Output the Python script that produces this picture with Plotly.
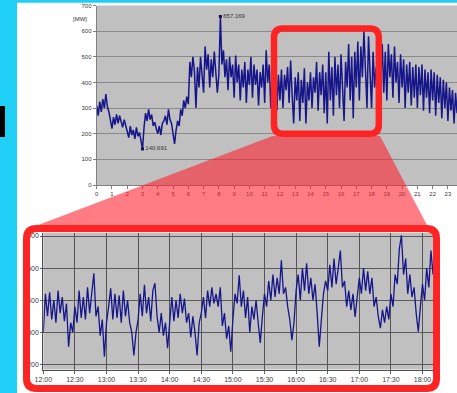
import plotly.graph_objects as go

# ---------------- data ----------------
# Top chart: whole day, one value every 0.1 h  [MW]
day_step_h = 0.1
day_mw = [
    310, 270, 325, 285, 335, 300, 355, 305, 285, 250,   # 0 h
    220, 265, 235, 275, 240, 270, 245, 225, 255, 230,   # 1 h
    215, 185, 230, 195, 215, 180, 225, 190, 205, 175,   # 2 h
    140.691, 225, 280, 250, 295, 255, 275, 230, 245, 220,  # 3 h
    200, 230, 195, 240, 250, 270, 235, 295, 255, 240,   # 4 h
    200, 160, 215, 250, 230, 295, 270, 330, 300, 345,   # 5 h
    315, 480, 420, 500, 445, 300, 460, 380, 500, 420,   # 6 h
    360, 540, 450, 510, 380, 490, 420, 520, 440, 360,   # 7 h
    430, 657.169, 470, 525, 420, 490, 370, 500, 420, 470,  # 8 h
    340, 505, 400, 470, 330, 450, 380, 480, 320, 450,   # 9 h
    390, 500, 340, 470, 390, 450, 310, 440, 380, 470,   # 10 h
    320, 525, 400, 470, 300, 440, 360, 460, 290, 430,   # 11 h
    330, 450, 300, 430, 370, 460, 320, 485, 350, 240,   # 12 h
    420, 330, 440, 250, 410, 320, 455, 240, 400, 330,   # 13 h
    440, 300, 420, 360, 480, 290, 440, 350, 470, 280,   # 14 h
    440, 240, 520, 330, 460, 270, 500, 350, 470, 300,   # 15 h
    510, 340, 250, 480, 380, 550, 330, 500, 260, 520,   # 16 h
    380, 560, 330, 540, 420, 600, 440, 300, 580, 420,   # 17 h
    300, 520, 380, 460, 350, 520, 400, 550, 360, 520,   # 18 h
    330, 550, 420, 510, 340, 540, 400, 480, 320, 510,   # 19 h
    380, 490, 300, 470, 360, 480, 310, 460, 340, 470,   # 20 h
    300, 460, 350, 470, 290, 450, 340, 440, 280, 450,   # 21 h
    330, 440, 270, 430, 320, 420, 260, 410, 300, 400,   # 22 h
    250, 380, 290, 370, 240, 360, 280, 350, 260, 340,   # 23 h
]
day_tick_labels = [str(h) for h in range(24)]
day_y_ticks = [0, 100, 200, 300, 400, 500, 600, 700]

# Bottom chart: 12:00 - 18:10, one value every 2 minutes  [MW]
zoom_step_min = 2
zoom_mw = [
    300, 420, 350, 425, 340, 400, 330, 430, 360, 410, 335, 390, 255, 330, 300,  # 12:00
    380, 330, 430, 345, 410, 340, 440, 360, 420, 484, 350, 380, 290, 340, 224,  # 12:30
    330, 380, 437, 340, 420, 345, 415, 330, 430, 350, 400, 330, 300, 228, 300,  # 13:00
    340, 420, 350, 448, 360, 410, 335, 430, 453, 350, 300, 360, 290, 330, 251,  # 13:30
    340, 410, 335, 400, 345, 420, 360, 405, 330, 360, 285, 350, 300, 228, 330,  # 14:00
    360, 410, 345, 430, 380, 440, 390, 420, 380, 440, 320, 360, 280, 320, 240,  # 14:30
    340, 420, 390, 478, 380, 430, 345, 410, 300, 380, 340, 400, 330, 267, 350,  # 15:00
    420, 380, 460, 400, 480, 410, 470, 420, 524, 420, 440, 380, 340, 276, 330,  # 15:30
    430, 480, 400, 500, 430, 515, 420, 470, 400, 450, 360, 255, 340, 420, 460,  # 16:00
    430, 510, 440, 530, 450, 500, 555, 440, 460, 380, 430, 370, 420, 348, 400,  # 16:30
    470, 420, 500, 430, 490, 420, 470, 380, 410, 350, 313, 370, 330, 380, 340,  # 17:00
    420, 380, 480, 450, 560, 602, 480, 530, 420, 480, 410, 440, 360, 302, 380,  # 17:30
    450, 400, 500, 440, 555, 480,                                                # 18:00
]
zoom_tick_minutes = [0, 30, 60, 90, 120, 150, 180, 210, 240, 270, 300, 330, 360]
zoom_tick_labels = ["12:00", "12:30", "13:00", "13:30", "14:00", "14:30", "15:00",
                    "15:30", "16:00", "16:30", "17:00", "17:30", "18:00"]
zoom_y_ticks = [200, 300, 400, 500, 600]

# ---------------- figure ----------------
W, H = 457, 393
day_x = [i * day_step_h for i in range(len(day_mw))]
zoom_x = [i * zoom_step_min for i in range(len(zoom_mw))]

i_max = max(range(len(day_mw)), key=lambda i: day_mw[i])
i_min = min(range(len(day_mw)), key=lambda i: day_mw[i])

LINE = "#16168a"
FONT = "Liberation Sans, Arial, sans-serif"
TICKC = "#3a3a3a"

fig = go.Figure()
fig.add_trace(go.Scatter(x=day_x, y=day_mw, mode="lines",
                         line=dict(color=LINE, width=1.5), xaxis="x", yaxis="y",
                         hoverinfo="skip"))
fig.add_trace(go.Scatter(
    x=[day_x[i_max], day_x[i_min]], y=[day_mw[i_max], day_mw[i_min]],
    mode="markers+text", marker=dict(color="#10105a", size=3, symbol="square"),
    text=[f"{day_mw[i_max]:.3f}", f"{day_mw[i_min]:.3f}"],
    textposition="middle right", textfont=dict(size=6, color="#333", family=FONT),
    xaxis="x", yaxis="y", hoverinfo="skip", cliponaxis=False))
fig.add_trace(go.Scatter(x=zoom_x, y=zoom_mw, mode="lines",
                         line=dict(color=LINE, width=1.3), xaxis="x2", yaxis="y2",
                         hoverinfo="skip"))


def px(x):
    return x / W


def py(y):
    return 1 - y / H


def rounded_rect(x0, y0, x1, y1, r):
    # coordinates in pixels -> paper path
    pts = [
        ("M", (x0 + r, y0)), ("L", (x1 - r, y0)), ("Q", (x1, y0), (x1, y0 + r)),
        ("L", (x1, y1 - r)), ("Q", (x1, y1), (x1 - r, y1)), ("L", (x0 + r, y1)),
        ("Q", (x0, y1), (x0, y1 - r)), ("L", (x0, y0 + r)), ("Q", (x0, y0), (x0 + r, y0)),
    ]
    s = ""
    for seg in pts:
        cmd = seg[0]
        s += cmd + " " + " ".join(f"{px(a):.5f},{py(b):.5f}" for a, b in seg[1:]) + " "
    return s + "Z"


shapes = [
    # cyan frame
    dict(type="rect", xref="paper", yref="paper", x0=0, x1=px(17), y0=0, y1=1,
         fillcolor="#20cff5", line=dict(width=0), layer="above"),
    dict(type="rect", xref="paper", yref="paper", x0=0, x1=1, y0=py(2.8), y1=1,
         fillcolor="#20cff5", line=dict(width=0), layer="above"),
    dict(type="rect", xref="paper", yref="paper", x0=0, x1=px(5), y0=py(137), y1=py(106),
         fillcolor="#000000", line=dict(width=0), layer="above"),
    # zoom funnel
    dict(type="path", xref="paper", yref="paper",
         path=f"M {px(272.5)},{py(136)} L {px(380)},{py(136)} L {px(428)},{py(227)} "
              f"L {px(33)},{py(227)} Z",
         fillcolor="rgba(255,30,45,0.58)", line=dict(width=0), layer="above"),
    # red frames
    dict(type="path", xref="paper", yref="paper", path=rounded_rect(274, 28.5, 378.8, 133.8, 9),
         line=dict(color="#ff2424", width=6.5), layer="above"),
    dict(type="path", xref="paper", yref="paper", path=rounded_rect(26.5, 228.5, 436.5, 388.5, 10),
         line=dict(color="#ff2424", width=7), layer="above"),
]

fig.update_layout(
    width=W, height=H, autosize=False,
    margin=dict(l=0, r=0, t=0, b=0, pad=0, autoexpand=False),
    paper_bgcolor="white", plot_bgcolor="#c0c0c0", showlegend=False,
    font=dict(family=FONT, color=TICKC),
    shapes=shapes,
    xaxis=dict(domain=[px(96.7), 1.0], range=[0, (W - 96.7) / 15.27],
               tickvals=list(range(24)), ticktext=day_tick_labels,
               ticks="outside", ticklen=3, tickcolor="#808080",
               tickfont=dict(size=6, color=TICKC), showgrid=False,
               showline=True, linecolor="#808080", linewidth=1, zeroline=False,
               anchor="y", fixedrange=True, automargin=False),
    yaxis=dict(domain=[py(185), py(5.5)], range=[0, 700], tickvals=day_y_ticks,
               ticks="outside", ticklen=3, tickcolor="#808080",
               tickfont=dict(size=6, color=TICKC), showgrid=True,
               gridcolor="#8a8a8a", gridwidth=1, showline=True, linecolor="#808080",
               zeroline=False, anchor="x", fixedrange=True, automargin=False),
    xaxis2=dict(domain=[px(43.3), px(436)], range=[0, (436 - 43.3) / 31.6 * 30],
                tickvals=zoom_tick_minutes, ticktext=zoom_tick_labels,
                ticks="outside", ticklen=3, tickcolor="#606060",
                tickfont=dict(size=7, color=TICKC), showgrid=True,
                gridcolor="#555555", gridwidth=1, showline=True, linecolor="#505050",
                zeroline=False, anchor="y2", fixedrange=True, automargin=False),
    yaxis2=dict(domain=[py(369.5), py(232.5)], range=[184.4, 610.9], tickvals=zoom_y_ticks,
                ticks="outside", ticklen=2, tickcolor="#606060",
                tickfont=dict(size=7, color=TICKC), showgrid=True,
                gridcolor="#5a5a5a", gridwidth=1, showline=True, linecolor="#505050",
                zeroline=False, anchor="x2", fixedrange=True, automargin=False),
    annotations=[dict(text="[MW]", xref="paper", yref="paper", x=px(80), y=py(19),
                      xanchor="center", yanchor="middle",
                      showarrow=False, font=dict(size=6, color="#333", family=FONT))],
)

fig.write_html("out.html", config={"displayModeBar": False, "responsive": False},
               post_script="document.body.style.margin='0px';"
                           "document.body.style.overflow='hidden';")
